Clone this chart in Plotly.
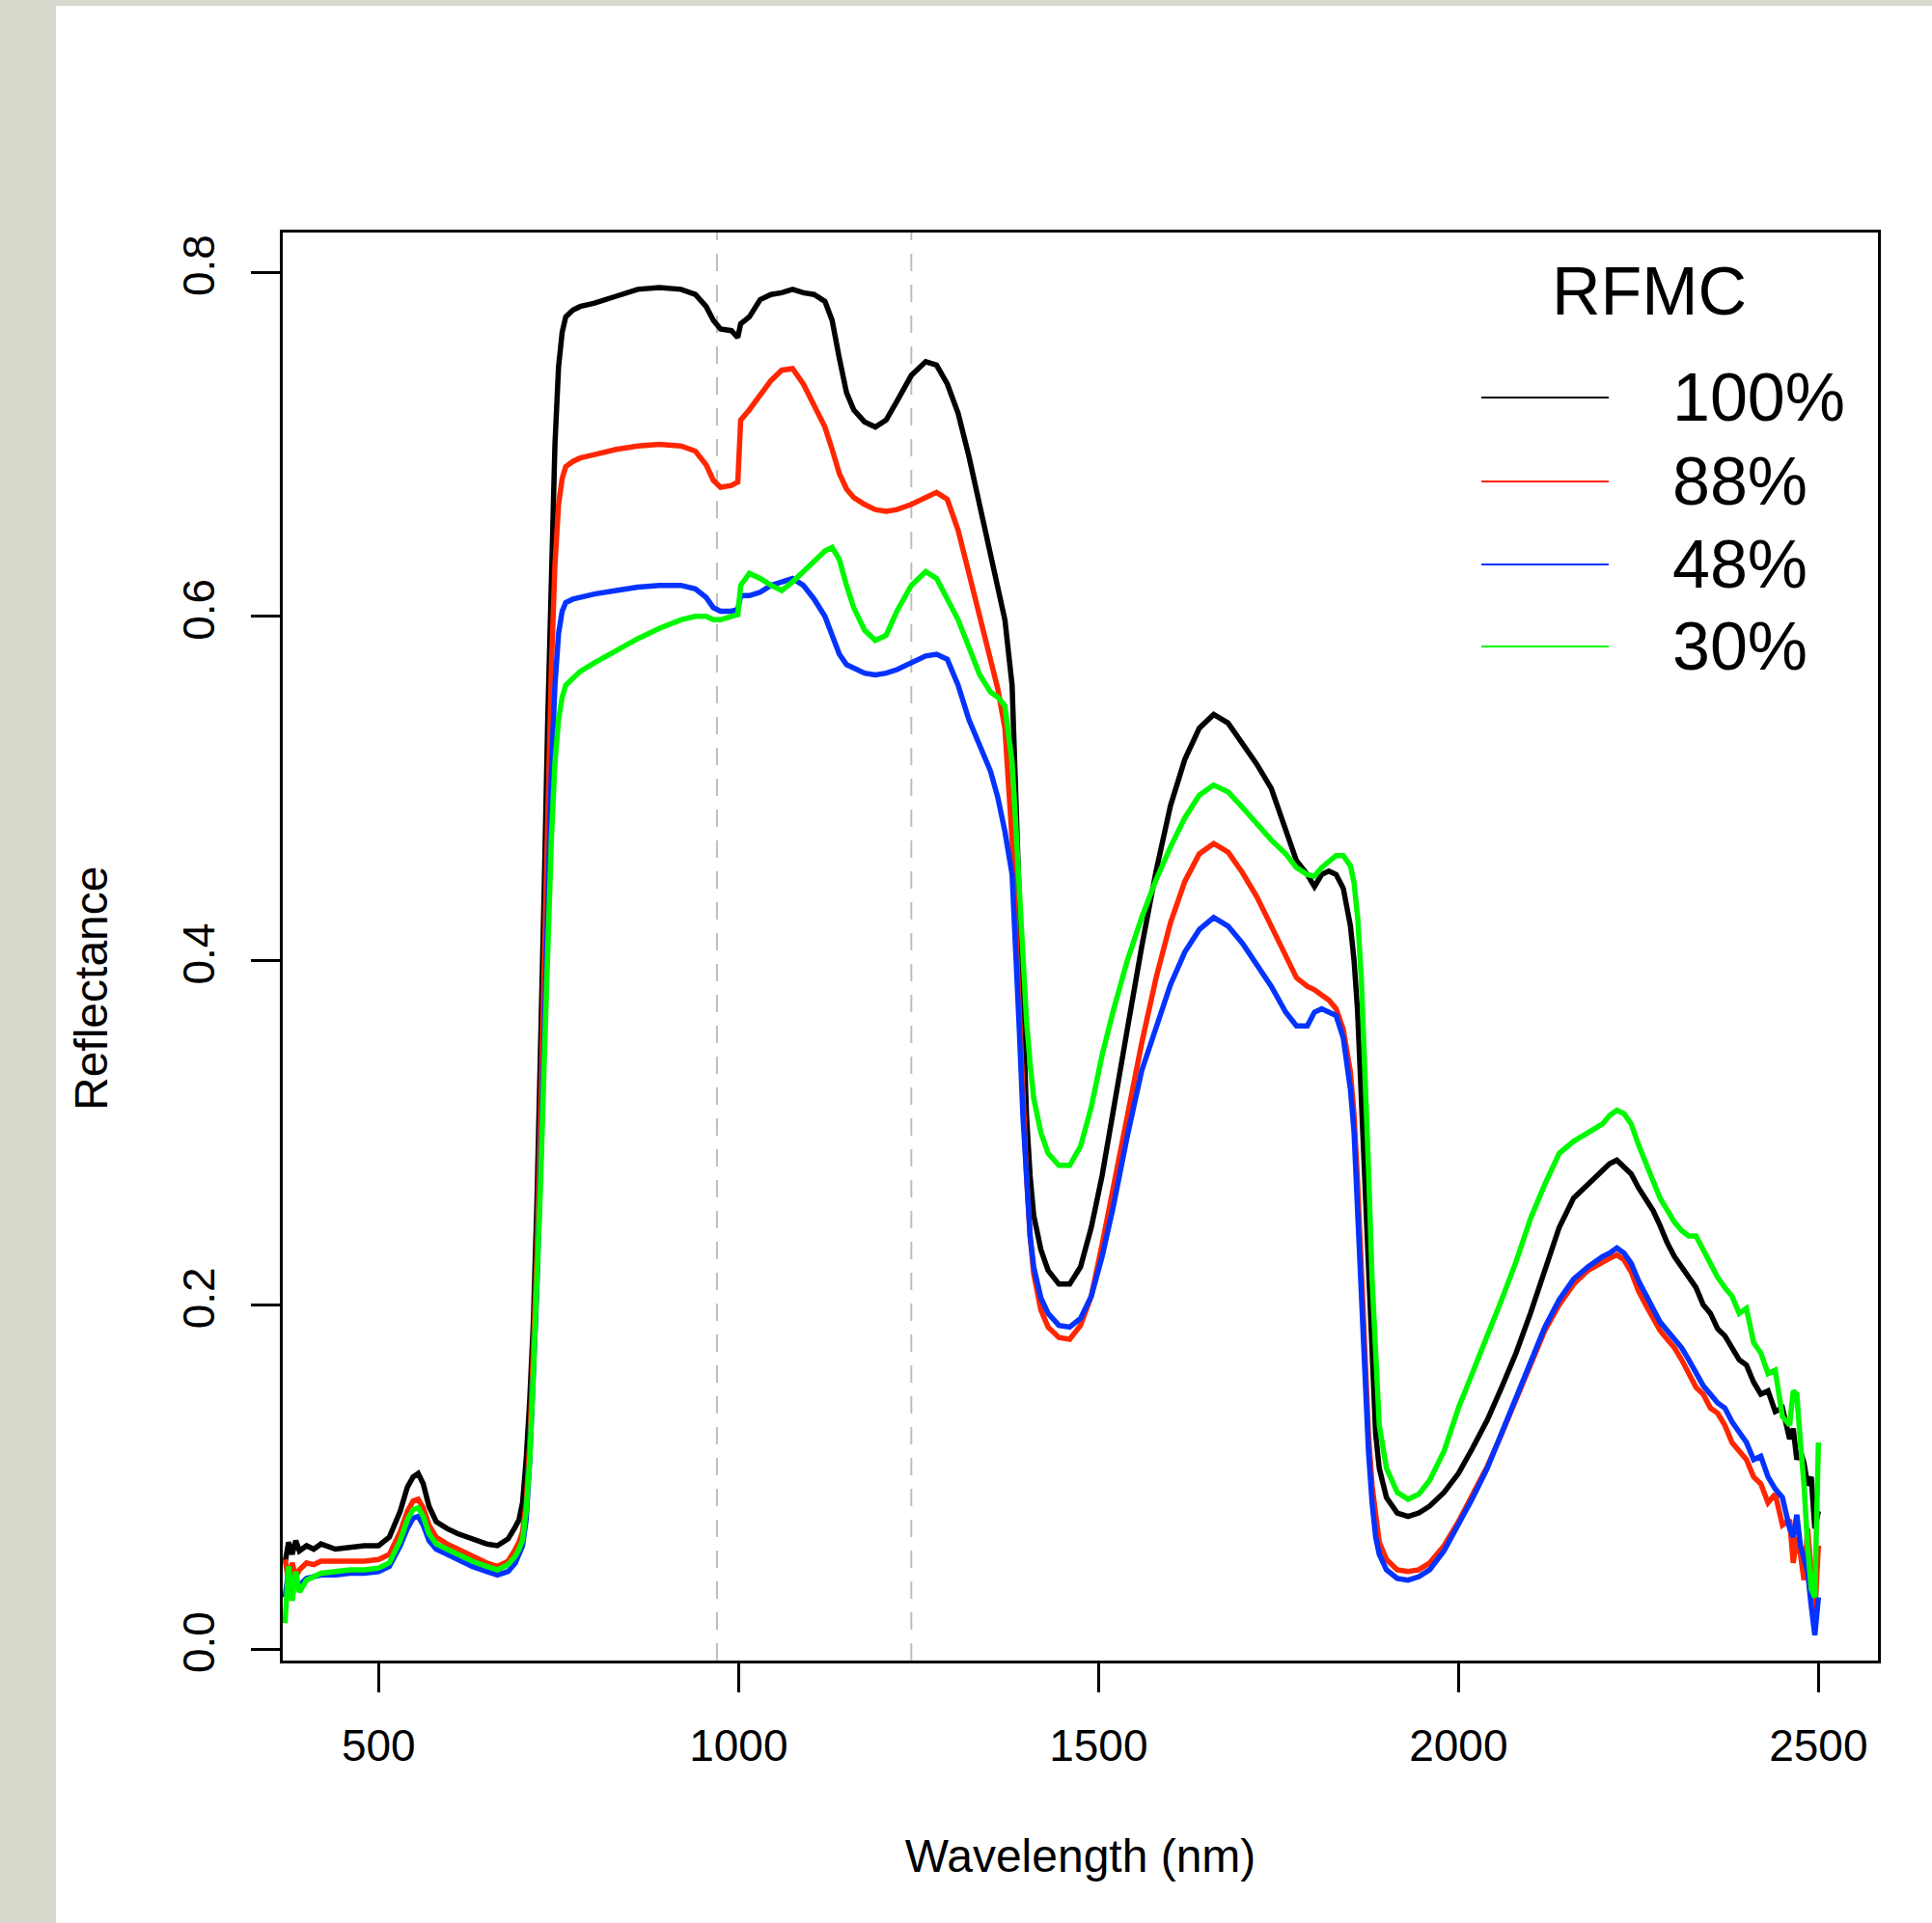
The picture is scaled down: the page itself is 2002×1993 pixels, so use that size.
import plotly.graph_objects as go

# ---------------- data ----------------
wavelength = [
    370, 375, 380, 385, 390, 400, 410, 420, 440, 460, 480, 500,
    515, 530, 540, 548, 555, 562, 570, 580, 595, 610, 630, 650, 665, 680, 690, 695, 700,
    705, 710, 715, 720, 725, 730, 735, 740, 745, 750, 755, 760, 770, 780, 800,
    830, 860, 890, 920, 940, 955, 965, 975, 990, 999, 1003,
    1015, 1030, 1045, 1060, 1075, 1090, 1105, 1120, 1130, 1140, 1150, 1160, 1175, 1190, 1205, 1220, 1240, 1260, 1275,
    1290, 1305, 1320, 1335, 1350, 1360, 1370, 1380, 1385, 1390, 1395, 1400, 1405, 1410,
    1420, 1430, 1445, 1460, 1475, 1490, 1505, 1520, 1540, 1560, 1580, 1600, 1620, 1640, 1660, 1680, 1700, 1720, 1740, 1760,
    1775, 1790, 1800, 1810, 1820, 1830, 1840, 1850, 1855, 1860, 1865, 1870, 1875, 1880, 1885, 1890, 1900,
    1915, 1930, 1945, 1960, 1980, 2000, 2020, 2040, 2060, 2080, 2100, 2120, 2140, 2160, 2180, 2200, 2210, 2220, 2230, 2240,
    2250, 2260, 2270, 2280, 2290, 2300, 2310, 2320, 2330, 2340, 2350, 2360, 2370, 2380, 2390, 2400, 2410, 2420, 2430, 2440,
    2450, 2460, 2465, 2470, 2475, 2480, 2485, 2490, 2495, 2500,
]

rfmc_100 = [
    0.050, 0.062, 0.055, 0.063, 0.057, 0.060, 0.058, 0.061, 0.058, 0.059, 0.060, 0.060,
    0.065, 0.080, 0.094, 0.100, 0.102, 0.096, 0.083, 0.074, 0.070, 0.067, 0.064, 0.061, 0.060, 0.064, 0.071, 0.075, 0.085,
    0.110, 0.145, 0.190, 0.260, 0.340, 0.440, 0.540, 0.630, 0.700, 0.745, 0.765, 0.774, 0.778, 0.780, 0.782,
    0.786, 0.790, 0.791, 0.790, 0.787, 0.780, 0.772, 0.767, 0.766, 0.762, 0.770,
    0.774, 0.784, 0.787, 0.788, 0.790, 0.788, 0.787, 0.783, 0.772, 0.750, 0.730, 0.720, 0.713, 0.710, 0.714, 0.725, 0.740, 0.748, 0.746,
    0.735, 0.718, 0.693, 0.665, 0.638, 0.620, 0.598, 0.560, 0.500, 0.430, 0.360, 0.310, 0.275, 0.252,
    0.232, 0.220, 0.212, 0.212, 0.222, 0.245, 0.275, 0.310, 0.360, 0.408, 0.452, 0.490, 0.517, 0.535, 0.543, 0.538, 0.526, 0.514, 0.500, 0.476,
    0.458, 0.450, 0.443, 0.450, 0.452, 0.450, 0.442, 0.420, 0.400, 0.370, 0.320, 0.270, 0.210, 0.160, 0.125, 0.105, 0.088,
    0.079, 0.077, 0.079, 0.083, 0.091, 0.102, 0.117, 0.133, 0.152, 0.172, 0.195, 0.220, 0.245, 0.262, 0.270, 0.277, 0.282, 0.284, 0.280, 0.276,
    0.268, 0.262, 0.255, 0.246, 0.236, 0.228, 0.222, 0.215, 0.210, 0.200, 0.195, 0.186, 0.182, 0.175, 0.168, 0.165, 0.155, 0.148, 0.150, 0.138,
    0.140, 0.122, 0.128, 0.110, 0.115, 0.108, 0.095, 0.100, 0.070, 0.080,
]

rfmc_88 = [
    0.052, 0.040, 0.050, 0.042, 0.046, 0.050, 0.049, 0.051, 0.051, 0.051, 0.051, 0.052,
    0.055, 0.068, 0.080, 0.086, 0.087, 0.082, 0.072, 0.065, 0.061, 0.058, 0.054, 0.050, 0.048, 0.051, 0.058, 0.062, 0.068,
    0.085, 0.120, 0.170, 0.230, 0.310, 0.400, 0.490, 0.570, 0.630, 0.665, 0.680, 0.687, 0.690, 0.692, 0.694,
    0.697, 0.699, 0.700, 0.699, 0.696, 0.688, 0.679, 0.675, 0.676, 0.678, 0.714,
    0.720, 0.728, 0.737, 0.743, 0.744, 0.735, 0.723, 0.710, 0.697, 0.683, 0.674, 0.669, 0.665, 0.662, 0.661, 0.662, 0.665, 0.669, 0.672,
    0.668, 0.650, 0.625, 0.600, 0.575, 0.558, 0.535, 0.470, 0.420, 0.370, 0.320, 0.275, 0.240, 0.218,
    0.197, 0.187, 0.181, 0.180, 0.188, 0.205, 0.235, 0.268, 0.310, 0.352, 0.390, 0.422, 0.446, 0.462, 0.468, 0.463, 0.451, 0.437, 0.420, 0.403,
    0.390, 0.385, 0.383, 0.380, 0.377, 0.372, 0.360, 0.335, 0.310, 0.270, 0.220, 0.170, 0.125, 0.095, 0.075, 0.062, 0.052,
    0.046, 0.045, 0.046, 0.050, 0.060, 0.074, 0.090, 0.106, 0.125, 0.145, 0.165, 0.185, 0.200, 0.212, 0.220, 0.225, 0.227, 0.229, 0.226, 0.219,
    0.208, 0.200, 0.193, 0.185, 0.180, 0.175, 0.168, 0.160, 0.152, 0.148, 0.140, 0.137, 0.130, 0.120, 0.115, 0.110, 0.100, 0.096, 0.085, 0.090,
    0.072, 0.075, 0.050, 0.065, 0.055, 0.040, 0.070, 0.045, 0.020, 0.060,
]

rfmc_48 = [
    0.030, 0.045, 0.038, 0.040, 0.037, 0.041, 0.042, 0.043, 0.043, 0.044, 0.044, 0.045,
    0.048, 0.060, 0.070, 0.076, 0.077, 0.072, 0.063, 0.058, 0.055, 0.052, 0.048, 0.045, 0.043, 0.045, 0.050, 0.055, 0.060,
    0.075, 0.110, 0.160, 0.210, 0.280, 0.360, 0.440, 0.510, 0.560, 0.590, 0.603, 0.608, 0.610, 0.611, 0.613,
    0.615, 0.617, 0.618, 0.618, 0.616, 0.611, 0.605, 0.603, 0.603, 0.604, 0.612,
    0.612, 0.614, 0.618, 0.620, 0.622, 0.618, 0.610, 0.600, 0.590, 0.578, 0.572, 0.570, 0.567, 0.566, 0.567, 0.569, 0.573, 0.577, 0.578,
    0.575, 0.560, 0.540, 0.525, 0.510, 0.495, 0.475, 0.450, 0.410, 0.360, 0.310, 0.270, 0.240, 0.222,
    0.204, 0.195, 0.188, 0.187, 0.192, 0.205, 0.228, 0.256, 0.298, 0.336, 0.362, 0.386, 0.405, 0.418, 0.425, 0.420, 0.410, 0.398, 0.385, 0.370,
    0.362, 0.362, 0.370, 0.372, 0.370, 0.368, 0.355, 0.325, 0.300, 0.255, 0.205, 0.155, 0.115, 0.085, 0.065, 0.055, 0.046,
    0.041, 0.040, 0.042, 0.046, 0.057, 0.072, 0.088, 0.105, 0.125, 0.146, 0.167, 0.187, 0.203, 0.215, 0.222, 0.228, 0.230, 0.233, 0.230, 0.224,
    0.214, 0.206, 0.198, 0.190, 0.185, 0.180, 0.175, 0.168, 0.160, 0.153, 0.148, 0.143, 0.140, 0.132, 0.126, 0.120, 0.110, 0.112, 0.100, 0.093,
    0.088, 0.070, 0.065, 0.078, 0.060, 0.052, 0.045, 0.025, 0.008, 0.030,
]

rfmc_30 = [
    0.015, 0.048, 0.028, 0.045, 0.033, 0.040, 0.042, 0.044, 0.045, 0.046, 0.046, 0.047,
    0.050, 0.063, 0.075, 0.081, 0.082, 0.077, 0.067, 0.061, 0.058, 0.055, 0.051, 0.048, 0.046, 0.049, 0.054, 0.058, 0.063,
    0.080, 0.110, 0.160, 0.210, 0.270, 0.340, 0.410, 0.470, 0.515, 0.540, 0.553, 0.560, 0.564, 0.568, 0.573,
    0.580, 0.587, 0.593, 0.598, 0.600, 0.600, 0.598, 0.598, 0.600, 0.601, 0.618,
    0.625, 0.622, 0.618, 0.615, 0.620, 0.626, 0.632, 0.638, 0.640, 0.633, 0.618, 0.605, 0.592, 0.586, 0.589, 0.603, 0.618, 0.626, 0.622,
    0.610, 0.598, 0.582, 0.566, 0.556, 0.553, 0.548, 0.515, 0.480, 0.440, 0.400, 0.365, 0.340, 0.320,
    0.300, 0.288, 0.281, 0.281, 0.292, 0.315, 0.345, 0.370, 0.400, 0.425, 0.447, 0.466, 0.483, 0.496, 0.502, 0.498, 0.489, 0.479, 0.470, 0.462,
    0.454, 0.450, 0.449, 0.454, 0.458, 0.461, 0.461, 0.455, 0.445, 0.425, 0.390, 0.340, 0.280, 0.215, 0.165, 0.130, 0.105,
    0.091, 0.087, 0.090, 0.098, 0.115, 0.140, 0.162, 0.182, 0.203, 0.225, 0.250, 0.270, 0.288, 0.295, 0.300, 0.305, 0.310, 0.313, 0.311, 0.305,
    0.293, 0.282, 0.272, 0.262, 0.255, 0.248, 0.243, 0.240, 0.240, 0.232, 0.225, 0.216, 0.210, 0.205, 0.195, 0.198, 0.178, 0.172, 0.160, 0.162,
    0.135, 0.130, 0.150, 0.148, 0.120, 0.095, 0.060, 0.035, 0.030, 0.120,
]

series_names = ["100%", "88%", "48%", "30%"]
series_colors = ["#000000", "#FF2600", "#0433FF", "#00F900"]
series_values = [rfmc_100, rfmc_88, rfmc_48, rfmc_30]

water_bands = [970, 1240]
x_ticks = [500, 1000, 1500, 2000, 2500]
y_ticks = [0.0, 0.2, 0.4, 0.6, 0.8]
y_tick_text = ["0.0", "0.2", "0.4", "0.6", "0.8"]

for s in series_values:
    assert len(s) == len(wavelength), (len(s), len(wavelength))

# ---------------- layout geometry (pixels) ----------------
W, H = 2002, 1993
ML, MR, MT, MB = 293, 56, 241, 272
PW = W - ML - MR
PH = H - MT - MB
FONT = "Liberation Sans, Arial, Helvetica, sans-serif"


def px(xp):
    return (xp - ML) / PW


def py(yp):
    return (H - MB - yp) / PH


fig = go.Figure()

for name, color, vals in zip(series_names, series_colors, series_values):
    fig.add_trace(go.Scatter(
        x=wavelength, y=vals, mode="lines", name=name,
        line=dict(color=color, width=5.5),
        showlegend=False, hoverinfo="skip",
    ))

for wb in water_bands:
    fig.add_vline(x=wb, line=dict(color="#BEBEBE", width=2, dash="18px,14px"), layer="below")

shapes = []
# gray page edges (left and top)
shapes.append(dict(type="rect", xref="paper", yref="paper",
                   x0=px(0), x1=px(58), y0=py(H), y1=py(0),
                   fillcolor="#D8DACD", line=dict(width=0), layer="below"))
shapes.append(dict(type="rect", xref="paper", yref="paper",
                   x0=px(0), x1=px(W), y0=py(6), y1=py(0),
                   fillcolor="#D8DACD", line=dict(width=0), layer="below"))

annotations = []
# legend (drawn manually to mimic R legend)
leg_y = [412, 499, 585, 670]
for name, color, yy in zip(series_names, series_colors, leg_y):
    shapes.append(dict(type="line", xref="paper", yref="paper",
                       x0=px(1535), x1=px(1667), y0=py(yy), y1=py(yy),
                       line=dict(color=color, width=2.2)))
    annotations.append(dict(text=name, xref="paper", yref="paper",
                            x=px(1731), y=py(yy), xanchor="left", yanchor="middle",
                            showarrow=False, font=dict(size=70, color="black", family=FONT)))
annotations.append(dict(text="RFMC", xref="paper", yref="paper",
                        x=px(1709), y=py(302), xanchor="center", yanchor="middle",
                        showarrow=False, font=dict(size=70, color="black", family=FONT)))
# y axis title
annotations.append(dict(text="Reflectance", xref="paper", yref="paper",
                        x=px(94), y=py(1025), xanchor="center", yanchor="middle",
                        textangle=-90, showarrow=False,
                        font=dict(size=48, color="black", family=FONT)))

fig.update_layout(
    width=W, height=H,
    margin=dict(l=ML, r=MR, t=MT, b=MB, pad=0),
    paper_bgcolor="white", plot_bgcolor="white",
    font=dict(family=FONT, color="black"),
    shapes=list(fig.layout.shapes) + shapes,
    annotations=annotations,
    showlegend=False,
)

fig.update_xaxes(
    range=[366.9, 2582.7], tickvals=x_ticks, ticktext=[str(t) for t in x_ticks],
    ticks="outside", ticklen=30, tickwidth=2.5, tickcolor="black",
    showline=True, mirror=True, linecolor="black", linewidth=2.5,
    showgrid=False, zeroline=False, automargin=False,
    tickfont=dict(size=46, family=FONT, color="black"), ticklabelstandoff=16,
    title=dict(text="Wavelength (nm)", font=dict(size=48, family=FONT, color="black"), standoff=73),
)
fig.update_yaxes(
    range=[-0.00673, 0.823], tickvals=y_ticks, ticktext=y_tick_text,
    ticks="outside", ticklen=30, tickwidth=2.5, tickcolor="black",
    showline=True, mirror=True, linecolor="black", linewidth=2.5,
    showgrid=False, zeroline=False, automargin=False, tickangle=-90,
    tickfont=dict(size=46, family=FONT, color="black"), ticklabelstandoff=20,
)

fig.write_html("out.html", config={"displayModeBar": False},
               post_script="document.body.style.margin='0px';")
